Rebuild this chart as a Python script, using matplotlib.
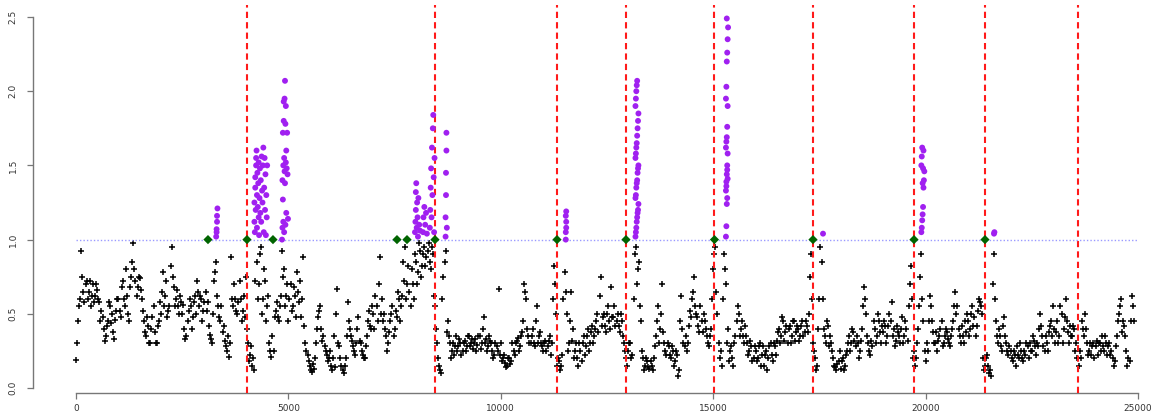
import numpy as np
import matplotlib
matplotlib.use("Agg")
import matplotlib.pyplot as plt

# black series, one value every 50 units starting at 0
step = 50
black_y = [
    0.19, 0.45, 0.60, 0.75, 0.58, 0.72, 0.65, 0.55, 0.70, 0.62, 0.66, 0.58, 0.52, 0.40, 0.35, 0.45, 0.55, 0.50, 0.33, 0.52,
    0.60, 0.48, 0.72, 0.55, 0.62, 0.45, 0.75, 0.98, 0.72, 0.68, 0.74, 0.60, 0.45, 0.35, 0.42, 0.30, 0.48, 0.38, 0.30, 0.45,
    0.50, 0.78, 0.62, 0.48, 0.55, 0.95, 0.68, 0.60, 0.55, 0.62, 0.50, 0.40, 0.35, 0.52, 0.55, 0.48, 0.62, 0.72, 0.55, 0.60,
    0.52, 0.65, 0.58, 0.36, 0.30, 0.72, 0.85, 0.55, 0.45, 0.38, 0.32, 0.25, 0.21, 0.88, 0.55, 0.60, 0.50, 0.72, 0.45, 0.62,
    0.75, 0.30, 0.22, 0.15, 0.12, 0.85, 0.70, 0.95, 0.60, 0.72, 0.55, 0.30, 0.21, 0.25, 0.52, 0.48, 0.55, 0.92, 0.80, 0.62,
    0.45, 0.70, 0.55, 0.62, 0.78, 0.58, 0.48, 0.88, 0.30, 0.22, 0.15, 0.11, 0.13, 0.30, 0.48, 0.55, 0.32, 0.28, 0.22, 0.20,
    0.15, 0.20, 0.14, 0.67, 0.28, 0.15, 0.10, 0.20, 0.58, 0.40, 0.32, 0.25, 0.30, 0.48, 0.30, 0.22, 0.20, 0.35, 0.52, 0.40,
    0.50, 0.62, 0.45, 0.88, 0.60, 0.50, 0.35, 0.30, 0.45, 0.55, 0.40, 0.48, 0.60, 0.55, 0.85, 0.95, 0.70, 0.65, 0.80, 0.60,
    0.85, 0.78, 0.92, 0.82, 0.95, 0.88, 0.98, 0.80, 0.90, 0.55, 0.30, 0.15, 0.10, 0.75, 0.92, 0.45, 0.30, 0.25, 0.22, 0.35,
    0.28, 0.30, 0.25, 0.32, 0.28, 0.35, 0.30, 0.26, 0.33, 0.29, 0.35, 0.30, 0.48, 0.33, 0.28, 0.32, 0.25, 0.22, 0.28, 0.67,
    0.30, 0.20, 0.17, 0.15, 0.20, 0.18, 0.25, 0.30, 0.34, 0.28, 0.38, 0.70, 0.60, 0.35, 0.30, 0.40, 0.28, 0.55, 0.35, 0.30,
    0.25, 0.32, 0.28, 0.35, 0.30, 0.82, 0.50, 0.20, 0.12, 0.22, 0.78, 0.50, 0.30, 0.65, 0.40, 0.25, 0.20, 0.30, 0.18, 0.35,
    0.28, 0.40, 0.30, 0.42, 0.35, 0.45, 0.38, 0.75, 0.48, 0.42, 0.50, 0.45, 0.68, 0.48, 0.42, 0.50, 0.38, 0.45, 0.30, 0.20,
    0.25, 0.30, 0.22, 0.90, 0.70, 0.85, 0.45, 0.20, 0.15, 0.18, 0.13, 0.15, 0.20, 0.35, 0.55, 0.40, 0.70, 0.30, 0.22, 0.28,
    0.20, 0.25, 0.18, 0.22, 0.12, 0.62, 0.30, 0.35, 0.30, 0.52, 0.60, 0.75, 0.50, 0.42, 0.55, 0.38, 0.45, 0.35, 0.28, 0.40,
    0.80, 0.95, 0.50, 0.20, 0.15, 0.90, 0.70, 0.40, 0.25, 0.20, 0.30, 0.45, 0.50, 0.40, 0.35, 0.42, 0.30, 0.25, 0.28, 0.20,
    0.25, 0.20, 0.30, 0.22, 0.15, 0.25, 0.20, 0.30, 0.18, 0.28, 0.32, 0.40, 0.35, 0.45, 0.38, 0.30, 0.42, 0.35, 0.45, 0.38,
    0.40, 0.35, 0.45, 0.38, 0.42, 0.50, 0.90, 0.30, 0.20, 0.15, 0.60, 0.85, 0.40, 0.30, 0.42, 0.35, 0.25, 0.15, 0.12, 0.18,
    0.13, 0.20, 0.15, 0.25, 0.35, 0.30, 0.38, 0.28, 0.30, 0.25, 0.40, 0.68, 0.50, 0.30, 0.22, 0.28, 0.40, 0.35, 0.45, 0.30,
    0.38, 0.42, 0.35, 0.50, 0.58, 0.40, 0.32, 0.38, 0.30, 0.48, 0.35, 0.40, 0.55, 0.82, 0.20, 0.15, 0.30, 0.55, 0.90, 0.45,
    0.18, 0.25, 0.62, 0.45, 0.30, 0.38, 0.32, 0.40, 0.28, 0.35, 0.38, 0.30, 0.35, 0.45, 0.65, 0.55, 0.35, 0.42, 0.30, 0.38,
    0.45, 0.40, 0.55, 0.48, 0.42, 0.60, 0.55, 0.20, 0.15, 0.22, 0.10, 0.08, 0.90, 0.45, 0.30, 0.35, 0.25, 0.48, 0.30, 0.22,
    0.25, 0.18, 0.22, 0.28, 0.20, 0.25, 0.18, 0.22, 0.28, 0.30, 0.25, 0.32, 0.22, 0.28, 0.50, 0.35, 0.25, 0.30, 0.38, 0.45,
    0.55, 0.30, 0.45, 0.35, 0.50, 0.40, 0.60, 0.38, 0.42, 0.35, 0.40, 0.30, 0.15, 0.20, 0.40, 0.50, 0.30, 0.25, 0.22, 0.30,
    0.28, 0.22, 0.30, 0.35, 0.25, 0.30, 0.28, 0.22, 0.20, 0.18, 0.35, 0.50, 0.60, 0.45, 0.35, 0.15, 0.18, 0.62, 0.45,
]
black_x = np.arange(len(black_y)) * step

# second reading of the same band, half a step later
black_y2 = [
    0.30, 0.55, 0.92, 0.65, 0.70, 0.60, 0.72, 0.62, 0.58, 0.70, 0.60, 0.45, 0.48, 0.32, 0.42, 0.58, 0.44, 0.38, 0.46, 0.60,
    0.52, 0.68, 0.60, 0.80, 0.50, 0.68, 0.85, 0.80, 0.62, 0.75, 0.66, 0.52, 0.38, 0.48, 0.30, 0.40, 0.55, 0.30, 0.42, 0.58,
    0.65, 0.55, 0.72, 0.52, 0.82, 0.75, 0.55, 0.66, 0.50, 0.58, 0.56, 0.33, 0.45, 0.60, 0.40, 0.58, 0.50, 0.65, 0.62, 0.45,
    0.58, 0.52, 0.42, 0.33, 0.50, 0.78, 0.62, 0.48, 0.55, 0.42, 0.28, 0.35, 0.30, 0.60, 0.70, 0.52, 0.58, 0.60, 0.52, 0.48,
    0.40, 0.18, 0.28, 0.20, 0.72, 0.60, 0.90, 0.50, 0.80, 0.45, 0.62, 0.25, 0.35, 0.48, 0.58, 0.45, 0.62, 0.75, 0.55, 0.70,
    0.60, 0.52, 0.68, 0.48, 0.65, 0.72, 0.60, 0.42, 0.25, 0.18, 0.12, 0.16, 0.20, 0.40, 0.52, 0.40, 0.35, 0.25, 0.18, 0.25,
    0.12, 0.35, 0.50, 0.30, 0.20, 0.12, 0.15, 0.35, 0.45, 0.35, 0.28, 0.22, 0.40, 0.32, 0.25, 0.20, 0.28, 0.45, 0.42, 0.55,
    0.40, 0.55, 0.70, 0.50, 0.45, 0.40, 0.25, 0.38, 0.50, 0.35, 0.52, 0.65, 0.45, 0.62, 0.72, 0.60, 0.82, 0.55, 0.70, 0.90,
    0.70, 0.98, 0.75, 0.90, 0.82, 0.92, 0.85, 0.95, 0.62, 0.40, 0.20, 0.12, 0.60, 0.85, 0.38, 0.35, 0.20, 0.30, 0.28, 0.25,
    0.33, 0.22, 0.30, 0.25, 0.35, 0.28, 0.33, 0.30, 0.25, 0.35, 0.26, 0.40, 0.30, 0.25, 0.35, 0.30, 0.20, 0.30, 0.25, 0.22,
    0.18, 0.22, 0.14, 0.20, 0.16, 0.30, 0.22, 0.32, 0.25, 0.35, 0.45, 0.65, 0.40, 0.30, 0.35, 0.30, 0.45, 0.30, 0.38, 0.28,
    0.30, 0.25, 0.32, 0.22, 0.60, 0.70, 0.15, 0.18, 0.15, 0.60, 0.65, 0.25, 0.45, 0.32, 0.20, 0.30, 0.15, 0.25, 0.30, 0.22,
    0.35, 0.25, 0.38, 0.30, 0.40, 0.50, 0.62, 0.42, 0.50, 0.38, 0.55, 0.40, 0.48, 0.55, 0.45, 0.42, 0.50, 0.35, 0.25, 0.15,
    0.30, 0.20, 0.60, 0.95, 0.80, 0.55, 0.25, 0.12, 0.20, 0.14, 0.18, 0.12, 0.28, 0.45, 0.30, 0.50, 0.38, 0.25, 0.30, 0.22,
    0.28, 0.15, 0.25, 0.08, 0.45, 0.40, 0.28, 0.25, 0.42, 0.48, 0.65, 0.55, 0.48, 0.38, 0.45, 0.50, 0.40, 0.30, 0.35, 0.60,
    0.90, 0.65, 0.30, 0.25, 0.60, 0.80, 0.30, 0.18, 0.28, 0.15, 0.35, 0.55, 0.35, 0.45, 0.30, 0.35, 0.22, 0.32, 0.18, 0.28,
    0.18, 0.28, 0.15, 0.28, 0.22, 0.12, 0.28, 0.22, 0.30, 0.22, 0.38, 0.30, 0.48, 0.32, 0.42, 0.40, 0.30, 0.45, 0.32, 0.42,
    0.32, 0.42, 0.35, 0.45, 0.38, 0.75, 0.60, 0.25, 0.12, 0.40, 0.95, 0.60, 0.35, 0.45, 0.28, 0.30, 0.20, 0.14, 0.16, 0.25,
    0.18, 0.12, 0.22, 0.30, 0.25, 0.40, 0.32, 0.35, 0.20, 0.32, 0.55, 0.60, 0.35, 0.25, 0.32, 0.45, 0.30, 0.50, 0.38, 0.42,
    0.45, 0.30, 0.42, 0.45, 0.35, 0.28, 0.42, 0.35, 0.40, 0.30, 0.45, 0.32, 0.70, 0.60, 0.25, 0.20, 0.40, 0.75, 0.60, 0.25,
    0.30, 0.45, 0.55, 0.38, 0.30, 0.25, 0.35, 0.45, 0.30, 0.40, 0.33, 0.28, 0.40, 0.55, 0.50, 0.40, 0.30, 0.35, 0.45, 0.50,
    0.35, 0.50, 0.42, 0.35, 0.52, 0.58, 0.50, 0.12, 0.20, 0.15, 0.12, 0.70, 0.60, 0.35, 0.40, 0.28, 0.42, 0.35, 0.25, 0.28,
    0.20, 0.25, 0.15, 0.22, 0.30, 0.20, 0.25, 0.30, 0.20, 0.25, 0.35, 0.28, 0.30, 0.40, 0.42, 0.28, 0.35, 0.25, 0.42, 0.35,
    0.40, 0.38, 0.30, 0.55, 0.30, 0.48, 0.45, 0.30, 0.35, 0.42, 0.25, 0.20, 0.25, 0.45, 0.35, 0.40, 0.22, 0.30, 0.28, 0.20,
    0.32, 0.30, 0.25, 0.28, 0.35, 0.22, 0.30, 0.25, 0.15, 0.28, 0.45, 0.55, 0.38, 0.42, 0.25, 0.20, 0.45, 0.55,
]
black_x2 = np.arange(len(black_y2)) * step + step // 2

# points above the threshold
purple_x = [
    3300, 3310, 3310, 3320, 3320, 3330,
    4200, 4200, 4210, 4220, 4220, 4230, 4240, 4240, 4250, 4260, 4260, 4270, 4280, 4290, 4300, 4300,
    4310, 4320, 4330, 4340, 4350, 4360, 4370, 4380, 4390, 4400, 4410, 4420, 4430, 4440, 4450, 4460,
    4470, 4480, 4490, 4500,
    4850, 4860, 4860, 4870, 4870, 4880, 4880, 4890, 4890, 4900, 4900, 4910, 4910, 4920, 4920, 4930,
    4930, 4940, 4940, 4950, 4950, 4960, 4970, 4980, 4990,
    7980, 7990, 8000, 8000, 8010, 8020, 8030, 8040, 8050, 8060, 8080, 8100,
    8170, 8180, 8200, 8220, 8240, 8260,
    8330, 8340, 8350, 8360, 8370, 8380, 8390, 8400, 8410, 8420, 8430, 8440,
    8700, 8700, 8710, 8710, 8720, 8720, 8730,
    11530, 11530, 11540, 11540, 11530, 11540,
    13170, 13180, 13190, 13200, 13210, 13220, 13230, 13240, 13170, 13180, 13190, 13200, 13210, 13220,
    13230, 13240, 13170, 13180, 13190, 13200, 13210, 13220, 13230, 13240, 13170, 13180, 13190, 13200, 13210,
    15300, 15310, 15320, 15330, 15300, 15310, 15320, 15330, 15340, 15300, 15310, 15320, 15330, 15340,
    15300, 15310, 15320, 15330, 15340, 15350, 15320, 15330, 15340, 15310,
    17585,
    19900, 19910, 19920, 19930, 19940, 19950, 19960, 19970, 19900, 19910, 19920, 19930, 19940, 19950,
    21610, 21620,
]
purple_y = [
    1.02, 1.05, 1.07, 1.12, 1.16, 1.21,
    1.12, 1.25, 1.05, 1.35, 1.42, 1.20, 1.50, 1.55, 1.60, 1.08, 1.30, 1.45, 1.22, 1.38, 1.15, 1.52,
    1.03, 1.28, 1.48, 1.18, 1.40, 1.12, 1.56, 1.33, 1.25, 1.50, 1.62, 1.05, 1.35, 1.55, 1.20, 1.44,
    1.03, 1.30, 1.15, 1.50,
    1.00, 1.08, 1.40, 1.27, 1.72, 1.12, 1.50, 1.93, 1.80, 1.55, 1.05, 1.46, 1.95, 1.38, 2.07, 1.78,
    1.10, 1.52, 1.90, 1.60, 1.18, 1.48, 1.72, 1.44, 1.14,
    1.05, 1.12, 1.20, 1.32, 1.38, 1.08, 1.25, 1.15, 1.02, 1.28, 1.10, 1.06,
    1.05, 1.15, 1.22, 1.10, 1.18, 1.04,
    1.08, 1.20, 1.35, 1.48, 1.15, 1.62, 1.30, 1.75, 1.84, 1.42, 1.05, 1.55,
    1.02, 1.15, 1.30, 1.45, 1.60, 1.72, 1.08,
    1.00, 1.05, 1.08, 1.12, 1.16, 1.19,
    1.02, 1.05, 1.08, 1.12, 1.15, 1.18, 1.20, 1.24, 1.28, 1.30, 1.35, 1.38, 1.40, 1.45,
    1.48, 1.50, 1.55, 1.58, 1.62, 1.65, 1.70, 1.75, 1.80, 1.85, 1.90, 1.95, 2.00, 2.04, 2.07,
    1.02, 1.09, 1.24, 1.28, 1.33, 1.39, 1.44, 1.50, 1.58, 1.62, 1.66, 1.69, 1.76, 1.90,
    1.95, 2.03, 2.20, 2.26, 2.35, 2.43, 2.49, 1.47, 1.41, 1.36,
    1.04,
    1.05, 1.08, 1.13, 1.17, 1.22, 1.35, 1.40, 1.46, 1.50, 1.56, 1.62, 1.38, 1.48, 1.60,
    1.04, 1.05,
]

# break points at y = 1
green_x = [3107, 4025, 4637, 7556, 7792, 8451, 11323, 12947, 15030, 17349, 19727, 21398]
green_y = [1.0] * len(green_x)

# change positions
red_x = [4025, 8451, 11323, 12947, 15019, 17349, 19727, 21398, 23588]

threshold = 1.0
x_ticks = [0, 5000, 10000, 15000, 20000, 25000]
y_ticks = [0.0, 0.5, 1.0, 1.5, 2.0, 2.5]

fig = plt.figure(figsize=(11.58, 4.16), dpi=100)
ax = fig.add_axes([33 / 1158, 1 - 393 / 416, 1 - 33 / 1158, (393 - 5) / 416])

ax.scatter(black_x, black_y, marker="+", s=22, linewidths=1.1, color="black", zorder=2)
ax.scatter(black_x2, black_y2, marker="+", s=22, linewidths=1.1, color="black", zorder=2)
for xv in red_x:
    ax.axvline(xv, color="#ff1a1a", lw=1.5, linestyle=(0, (3, 2)), zorder=3)
ax.plot([0, 25000], [threshold, threshold], color="#9a9aff", lw=1.0, linestyle=(0, (1, 1.5)), zorder=3)
ax.scatter(green_x, green_y, marker="D", s=22, color="#006400", edgecolors="none", zorder=4)
ax.scatter(purple_x, purple_y, marker="o", s=18, color="#a020f0", edgecolors="none", zorder=5)

ax.set_xlim(-1012, (1158 - 76) / 0.04248)
ax.set_ylim((388 - 393) / 148.4, (388 - 5) / 148.4)

for side in ["top", "right"]:
    ax.spines[side].set_visible(False)
ax.spines["left"].set_bounds(0, 2.5)
ax.spines["bottom"].set_bounds(0, 25000)
for side in ["left", "bottom"]:
    ax.spines[side].set_color("#777777")
    ax.spines[side].set_linewidth(1.0)

ax.set_xticks(x_ticks)
ax.set_xticklabels([str(t) for t in x_ticks])
ax.set_yticks(y_ticks)
ax.set_yticklabels([f"{t:.1f}" for t in y_ticks], rotation=90, va="center")
ax.tick_params(axis="both", colors="#777777", labelcolor="#333333", labelsize=6.5, length=4, width=0.9)
ax.tick_params(axis="x", pad=4)
ax.tick_params(axis="y", pad=7)

fig.savefig("out.png", dpi=100)
